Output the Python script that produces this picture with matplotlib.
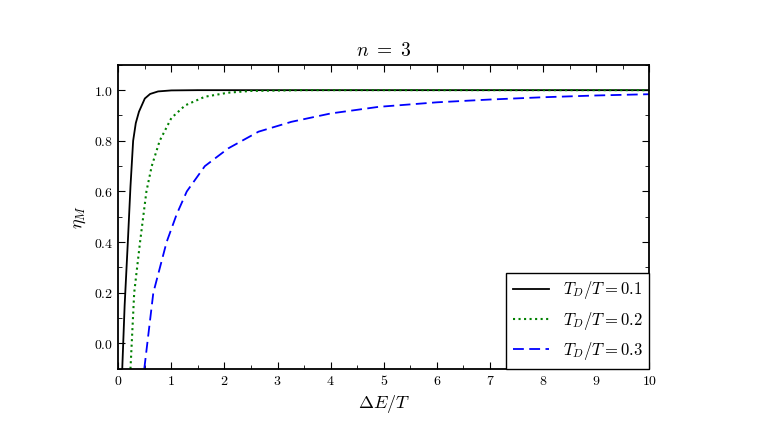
import matplotlib
matplotlib.use("Agg")
import matplotlib.pyplot as plt
from matplotlib.ticker import MultipleLocator, FuncFormatter

plt.rcParams["mathtext.fontset"] = "cm"
plt.rcParams["font.family"] = "serif"
plt.rcParams["font.serif"] = ["DejaVu Serif"]

x_01 = [0.075, 0.12, 0.18, 0.23, 0.28, 0.33, 0.39, 0.5, 0.6, 0.75, 1.0, 1.5, 10]
y_01 = [-0.1, 0.15, 0.4, 0.62, 0.8, 0.87, 0.915, 0.967, 0.985, 0.995, 0.999, 1.0, 1.0]
x_02 = [0.23, 0.3, 0.41, 0.53, 0.63, 0.78, 1.0, 1.26, 1.63, 2.07, 2.5, 3.5, 10]
y_02 = [-0.1, 0.2, 0.4, 0.6, 0.7, 0.8, 0.89, 0.94, 0.974, 0.99, 0.997, 1.0, 1.0]
x_03 = [0.49, 0.66, 0.91, 1.1, 1.29, 1.63, 2.07, 2.64, 3.26, 4.0, 4.9, 6, 7, 8, 9, 10]
y_03 = [-0.1, 0.2, 0.4, 0.51, 0.6, 0.7, 0.77, 0.836, 0.875, 0.908, 0.934, 0.952, 0.963, 0.972, 0.979, 0.984]
labels = [r"$T_D/T = 0.1$", r"$T_D/T = 0.2$", r"$T_D/T = 0.3$"]

fig = plt.figure(figsize=(7.63, 4.38), dpi=100)
ax = fig.add_axes([0.155, 0.158, 0.696, 0.694])
ax.plot(x_01, y_01, "k-", lw=1.3, label=labels[0])
ax.plot(x_02, y_02, ls=":", color="green", lw=1.5, label=labels[1])
ax.plot(x_03, y_03, ls=(0, (6, 3)), color="blue", lw=1.3, label=labels[2])
ax.set_xlim(0, 10)
ax.set_ylim(-0.1, 1.1)
ax.xaxis.set_major_locator(MultipleLocator(1))
ax.xaxis.set_minor_locator(MultipleLocator(0.5))
ax.yaxis.set_major_locator(MultipleLocator(0.2))
ax.yaxis.set_minor_locator(MultipleLocator(0.1))
ax.xaxis.set_major_formatter(FuncFormatter(lambda v, p: r"$%d$" % round(v)))
ax.yaxis.set_major_formatter(FuncFormatter(lambda v, p: r"$%.1f$" % v))
ax.tick_params(which="both", direction="in", top=True, right=True, labelsize=10)
ax.tick_params(which="major", length=5)
ax.tick_params(which="minor", length=3)
for s in ax.spines.values():
    s.set_linewidth(1.3)
ax.set_xlabel(r"$\Delta E/T$", fontsize=13)
ax.set_ylabel(r"$\eta_M$", fontsize=13)
ax.set_title(r"$n\ =\ 3$", fontsize=14)
leg = ax.legend(loc="lower right", fontsize=12, fancybox=False, framealpha=1,
                edgecolor="black", borderaxespad=0.0, handlelength=2.2)
leg.get_frame().set_linewidth(1.0)
fig.savefig("out.png", dpi=100)
